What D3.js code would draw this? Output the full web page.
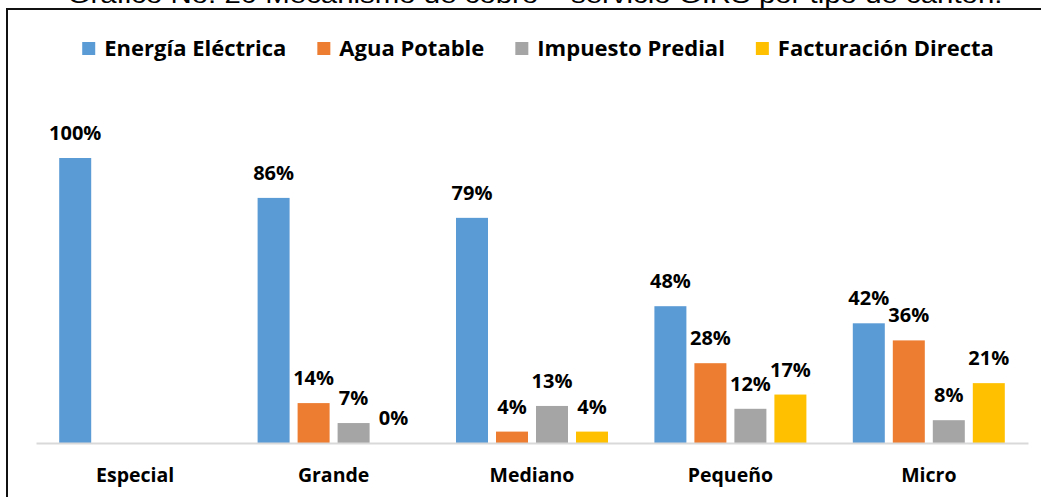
<!DOCTYPE html>
<html>
<head>
<meta charset="utf-8">
<script src="https://cdn.jsdelivr.net/npm/d3@7"></script>
<style>
  body { margin: 0; background: #fff; }
  text { font-family: "Open Sans", sans-serif; }
</style>
</head>
<body>
<div id="chart"></div>
<script>
var categories = ["Especial", "Grande", "Mediano", "Pequeño", "Micro"];
var series = ["Energía Eléctrica", "Agua Potable", "Impuesto Predial", "Facturación Directa"];
var colors = ["#5B9BD5", "#ED7D31", "#A5A5A5", "#FFC000"];
// percent per category, one array per series (null = no bar)
var energia = [100, 86, 79, 48, 42];
var agua = [null, 14, 4, 28, 36];
var predial = [null, 7, 13, 12, 8];
var directa = [null, 0, 4, 17, 21];
var seriesValues = [energia, agua, predial, directa];
var titleText = "Gráfico No. 20 Mecanismo de cobro – servicio GIRS por tipo de cantón.";

var width = 1041, height = 497;
var margin = {left: 36, right: 13, top: 158, bottom: 54};

var svg = d3.select("#chart").append("svg")
    .attr("width", width)
    .attr("height", height);

svg.append("rect").attr("width", width).attr("height", height).attr("fill", "#fff");

// title, cut by the top of the picture
svg.append("text")
    .attr("x", 535)
    .attr("y", 3)
    .attr("text-anchor", "middle")
    .attr("textLength", 935)
    .attr("lengthAdjust", "spacingAndGlyphs")
    .style("font-family", "'Liberation Sans', Arial, sans-serif")
    .style("font-size", "24px")
    .style("fill", "#000")
    .text(titleText);

// frame (only left + top visible)
svg.append("path")
    .attr("d", "M7,497 V9 H1041")
    .attr("fill", "none")
    .attr("stroke", "#111")
    .attr("stroke-width", 2);

var x0 = d3.scaleBand()
    .domain(categories)
    .range([margin.left, width - margin.right])
    .paddingInner(0)
    .paddingOuter(0);

var x1 = d3.scaleBand()
    .domain(series)
    .range([0, x0.bandwidth()])
    .paddingInner(0.2)
    .paddingOuter(0.58);

var y = d3.scaleLinear()
    .domain([0, 100])
    .range([height - margin.bottom, margin.top]);

var rows = [];
categories.forEach(function(c, i) {
    series.forEach(function(s, j) {
        var v = seriesValues[j][i];
        if (v !== null) rows.push({cat: c, ser: s, value: v, color: colors[j]});
    });
});

var groups = svg.append("g");

groups.selectAll("rect.bar")
    .data(rows)
    .enter()
    .append("rect")
    .attr("class", "bar")
    .attr("x", function(d) { return x0(d.cat) + x1(d.ser); })
    .attr("y", function(d) { return y(d.value); })
    .attr("width", x1.bandwidth())
    .attr("height", function(d) { return y(0) - y(d.value); })
    .attr("fill", function(d) { return d.color; });

groups.selectAll("text.lbl")
    .data(rows)
    .enter()
    .append("text")
    .attr("class", "lbl")
    .attr("x", function(d) { return x0(d.cat) + x1(d.ser) + x1.bandwidth() / 2; })
    .attr("y", function(d) { return y(d.value) - 18; })
    .attr("text-anchor", "middle")
    .style("font-size", "20px")
    .style("font-weight", "bold")
    .style("fill", "#000")
    .text(function(d) { return d.value + "%"; });

// category axis
var xAxis = d3.axisBottom(x0).tickSize(0).tickPadding(25);
var ax = svg.append("g")
    .attr("transform", "translate(0," + y(0) + ")")
    .call(xAxis);
ax.select(".domain").attr("stroke", "#D9D9D9").attr("stroke-width", 2);
ax.selectAll("text")
    .style("font-family", "'Open Sans', sans-serif")
    .style("font-size", "19.5px")
    .style("font-weight", "bold")
    .style("fill", "#000");

// legend, centered
var legend = svg.append("g");
var items = legend.selectAll("g")
    .data(series)
    .enter()
    .append("g");
items.append("rect")
    .attr("y", 42)
    .attr("width", 13)
    .attr("height", 13)
    .attr("fill", function(d, i) { return colors[i]; });
items.append("text")
    .attr("x", 22)
    .attr("y", 56)
    .style("font-size", "22px")
    .style("font-weight", "bold")
    .style("fill", "#000")
    .text(function(d) { return d; });

var xpos = 0;
items.each(function() {
    var w = 22 + d3.select(this).select("text").node().getComputedTextLength();
    d3.select(this).attr("transform", "translate(" + xpos + ",0)");
    xpos += w + 31;
});
var total = xpos - 31;
legend.attr("transform", "translate(" + (538 - total / 2) + ",0)");
</script>
</body>
</html>
